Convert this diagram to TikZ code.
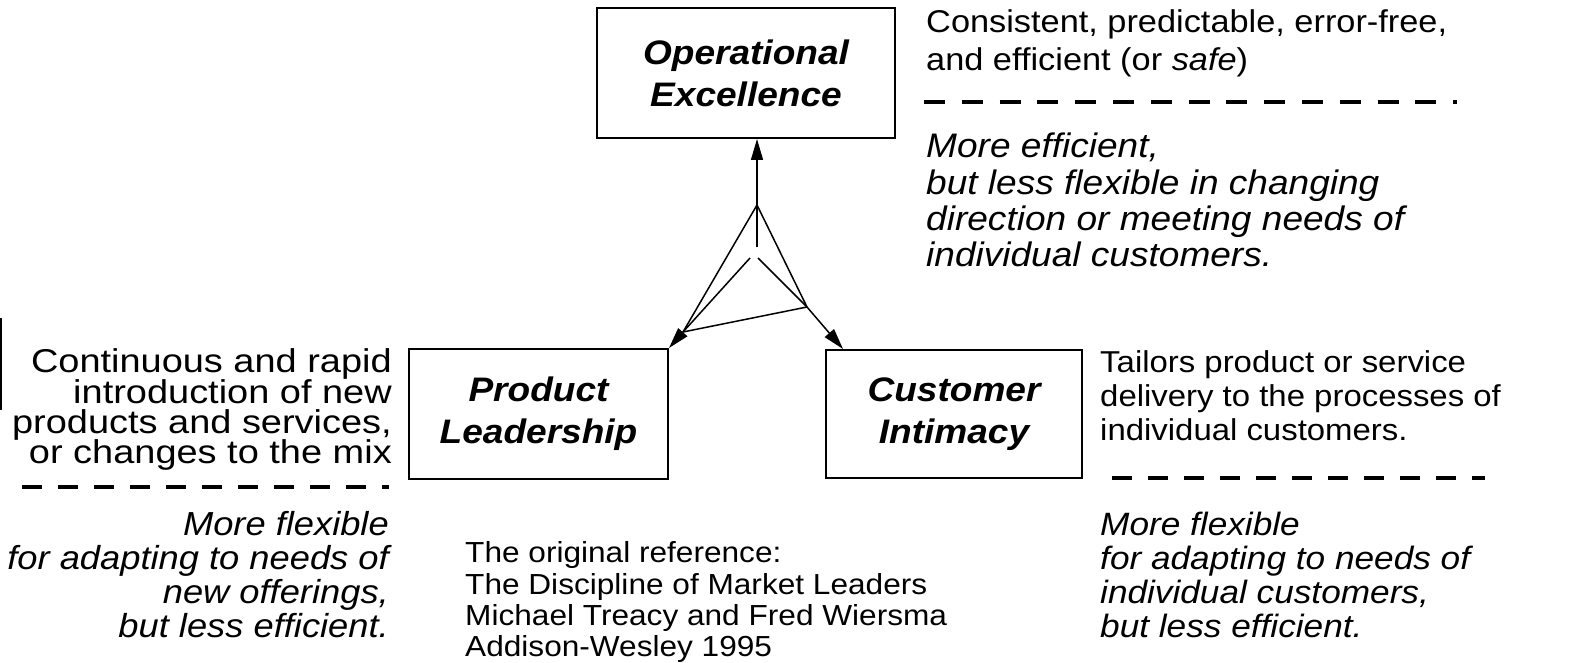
\documentclass[tikz,border=0pt]{standalone}
\usepackage{fontspec}
\setmainfont{Liberation Sans}
\newfontfamily\fN{Liberation Sans}[FakeStretch=1.09]
\newfontfamily\fL{Liberation Sans}[FakeStretch=1.15]
\usetikzlibrary{arrows.meta,calc}
\begin{document}
\begin{tikzpicture}[x=1pt,y=-1pt,
  box/.style={draw, line width=2pt, inner sep=0pt, align=center,
    font=\fN\fontsize{34}{42}\selectfont\bfseries\itshape},
  rt/.style={inner sep=0pt, anchor=base west, font=\fN\fontsize{31.5}{38}\selectfont},
  rti/.style={inner sep=0pt, anchor=base west, font=\fN\fontsize{34}{38}\selectfont\itshape},
  lt/.style={inner sep=0pt, anchor=base east, font=\fL\fontsize{33}{31}\selectfont},
  lti/.style={inner sep=0pt, anchor=base east, font=\fN\fontsize{33.3}{34}\selectfont\itshape},
  rl/.style={inner sep=0pt, anchor=base west, font=\fN\fontsize{30.2}{34}\selectfont},
  rli/.style={inner sep=0pt, anchor=base west, font=\fN\fontsize{32.3}{34}\selectfont\itshape},
  ct/.style={inner sep=0pt, anchor=base west, font=\fN\fontsize{29}{32}\selectfont},
  conn/.style={line width=1.5pt, line join=round},
  arr/.style={conn, -{Triangle[length=21pt,width=12pt]}},
  dashline/.style={line width=4.5pt, dash pattern=on 20pt off 16pt}
]
\useasboundingbox (0,0) rectangle (1582,663);

% boxes
\node[box, minimum width=298pt, minimum height=130pt] (op) at (746,73) {Operational\\Excellence};
\node[box, minimum width=259pt, minimum height=130pt] (pl) at (538.5,414) {Product\\Leadership};
\node[box, minimum width=256pt, minimum height=128pt] (ci) at (954,414) {Customer\\Intimacy};

% central figure
\coordinate (T) at (757,205);
\coordinate (L) at (683,332);
\coordinate (R) at (807,307);
\coordinate (cv) at (757,247);
\coordinate (cl) at (750,258);
\coordinate (cr) at (758,258);
\coordinate (ciTip) at (843,349);
\draw[arr] (T) -- (T |- op.south);
\draw[arr] (L) -- (pl.north east);
\draw[arr] (R) -- (ciTip);
\draw[conn] (T) -- (L) -- (R) -- cycle;
\draw[conn] (T) -- (cv);
\draw[conn] (cl) -- (L);
\draw[conn] (cr) -- (R);

% left bar
\coordinate (bar1) at (1,318);
\coordinate (bar2) at (1,410);
\draw[line width=2pt] (bar1) -- (bar2);

% top right text
\node[rt] (t1) at (926,33) {Consistent, predictable, error-free,};
\node[rt] (t2) at (926,71) {and efficient (or \textit{safe})};
\coordinate (d1a) at (924,102);
\coordinate (d1b) at (1457,102);
\draw[dashline, dash pattern=on 21pt off 16.8pt] (d1a) -- (d1b);
\node[rti] (t3) at (926,158) {More efficient,};
\node[rti] (t4) at (926,195) {but less flexible in changing};
\node[rti] (t5) at (926,231) {direction or meeting needs of};
\node[rti] (t6) at (926,266) {individual customers.};

% left text
\node[lt] (l1) at (392,372) {Continuous and rapid};
\node[lt] (l2) at (392,403) {introduction of new};
\node[lt] (l3) at (392,433) {products and services,};
\node[lt] (l4) at (392,463) {or changes to the mix};
\coordinate (d2a) at (22,487);
\coordinate (d2b) at (389,487);
\draw[dashline] (d2a) -- (d2b);
\node[lti] (l5) at (389,535) {More flexible};
\node[lti] (l6) at (389,569) {for adapting to needs of};
\node[lti] (l7) at (389,603) {new offerings,};
\node[lti] (l8) at (389,637) {but less efficient.};

% right lower text
\node[rl] (r1) at (1100,372) {Tailors product or service};
\node[rl] (r2) at (1100,406) {delivery to the processes of};
\node[rl] (r3) at (1100,440) {individual customers.};
\coordinate (d3a) at (1112,478);
\coordinate (d3b) at (1485,478);
\draw[dashline] (d3a) -- (d3b);
\node[rli] (r4) at (1100,535) {More flexible};
\node[rli] (r5) at (1100,569) {for adapting to needs of};
\node[rli] (r6) at (1100,603) {individual customers,};
\node[rli] (r7) at (1100,637) {but less efficient.};

% bottom centre reference
\node[ct] (c1) at (465,562) {The original reference:};
\node[ct] (c2) at (465,594) {The Discipline of Market Leaders};
\node[ct] (c3) at (465,625) {Michael Treacy and Fred Wiersma};
\node[ct] (c4) at (465,656) {Addison-Wesley 1995};
\end{tikzpicture}
\end{document}
